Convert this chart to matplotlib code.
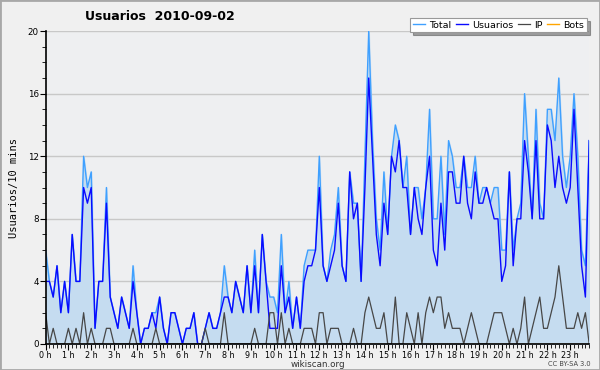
import matplotlib
matplotlib.use("Agg")
import matplotlib.pyplot as plt
from matplotlib.ticker import MultipleLocator
from matplotlib.patches import Rectangle
import numpy as np

# valores cada 10 minutos (144 puntos)
total = [6, 4, 3, 5, 2, 4, 2, 7, 4, 4, 12, 10, 11, 1, 4, 4, 10, 3, 2, 1, 3, 2, 1, 5,
         2, 0, 1, 1, 2, 2, 3, 1, 0, 2, 2, 1, 0, 1, 1, 2, 0, 0, 1, 2, 1, 1, 2, 5,
         3, 2, 4, 3, 2, 5, 2, 6, 2, 7, 4, 3, 3, 2, 7, 2, 4, 1, 3, 1, 5, 6, 6, 6,
         12, 5, 4, 6, 7, 10, 5, 4, 11, 9, 9, 4, 12, 20, 13, 8, 6, 11, 7, 12, 14, 13, 10, 12,
         7, 10, 10, 8, 10, 15, 8, 8, 12, 7, 13, 12, 10, 10, 12, 10, 10, 12, 9, 10, 10, 9, 10, 10,
         6, 6, 11, 6, 8, 9, 16, 12, 8, 15, 9, 8, 15, 15, 13, 17, 12, 10, 12, 16, 12, 6, 5, 13]
usuarios = [4, 4, 3, 5, 2, 4, 2, 7, 4, 4, 10, 9, 10, 1, 4, 4, 9, 3, 2, 1, 3, 2, 1, 4,
            2, 0, 1, 1, 2, 1, 3, 1, 0, 2, 2, 1, 0, 1, 1, 2, 0, 0, 1, 2, 1, 1, 2, 3,
            3, 2, 4, 3, 2, 5, 2, 5, 2, 7, 4, 1, 1, 1, 5, 2, 3, 1, 3, 1, 4, 5, 5, 6,
            10, 5, 4, 5, 6, 9, 5, 4, 11, 8, 9, 4, 10, 17, 12, 7, 5, 9, 7, 12, 11, 13, 10, 10,
            7, 10, 8, 7, 10, 12, 6, 5, 9, 6, 11, 11, 9, 9, 12, 9, 8, 11, 9, 9, 10, 9, 8, 8,
            4, 5, 11, 5, 8, 8, 13, 11, 8, 13, 8, 8, 14, 13, 10, 12, 10, 9, 10, 15, 10, 5, 3, 13]
ip = [2, 0, 1, 0, 0, 0, 1, 0, 1, 0, 2, 0, 1, 0, 0, 0, 1, 1, 0, 0, 0, 0, 0, 1,
      0, 0, 0, 0, 0, 1, 0, 0, 0, 0, 0, 0, 0, 0, 0, 0, 0, 0, 1, 0, 0, 0, 0, 2,
      0, 0, 0, 0, 0, 0, 0, 1, 0, 0, 0, 2, 2, 0, 2, 0, 1, 0, 0, 0, 1, 1, 1, 0,
      2, 2, 0, 1, 1, 1, 0, 0, 0, 1, 0, 0, 2, 3, 2, 1, 1, 2, 0, 0, 3, 0, 0, 2,
      1, 0, 2, 0, 2, 3, 2, 3, 3, 1, 2, 1, 1, 1, 0, 1, 2, 1, 0, 0, 0, 1, 2, 2,
      2, 1, 0, 1, 0, 1, 3, 0, 1, 2, 3, 1, 1, 2, 3, 5, 3, 1, 1, 1, 2, 1, 2, 0]
bots = [0] * 144

horas = np.arange(len(total)) / 6.0
hour_labels = ["%d h" % h for h in range(24)]

fig = plt.figure(figsize=(6, 3.7), dpi=100, facecolor="#f0f0f0")
fig.patches.append(Rectangle((0, 0), 1, 1, transform=fig.transFigure, fill=False,
                             edgecolor="#a8a8a8", linewidth=2))
ax = fig.add_axes([0.076, 0.0703, 0.906, 0.8457])
ax.set_facecolor("#eeeff1")

ax.fill_between(horas, total, color="#c5dcf0", zorder=1)
ax.plot(horas, bots, color="#ffa500", lw=1, label="Bots", zorder=1.5)
ax.plot(horas, total, color="#3fa0ff", lw=1, label="Total", zorder=3)
ax.plot(horas, usuarios, color="#0a0aff", lw=1, label="Usuarios", zorder=4)
ax.plot(horas, ip, color="#474747", lw=0.9, label="IP", zorder=5)

ax.set_xlim(0, horas[-1])
ax.set_ylim(0, 20)
ax.set_xticks(range(24))
ax.set_xticklabels(hour_labels, fontsize=5.8)
ax.xaxis.set_minor_locator(MultipleLocator(1 / 6))
ax.yaxis.set_major_locator(MultipleLocator(4))
ax.yaxis.set_minor_locator(MultipleLocator(1))
ax.tick_params(axis="y", which="major", labelsize=6.3)
ax.tick_params(axis="both", which="major", length=4, width=0.8, pad=1)
ax.tick_params(axis="both", which="minor", length=3, width=0.6)
ax.grid(axis="y", color="#c8c8c8", lw=1, zorder=0.5)
ax.set_axisbelow(True)
for s in ["top", "right"]:
    ax.spines[s].set_visible(False)
for s in ["left", "bottom"]:
    ax.spines[s].set_linewidth(1.2)
    ax.spines[s].set_zorder(6)

ax.set_ylabel("Usuarios/10 mins", family="DejaVu Sans Mono", fontsize=7.5, labelpad=6)
fig.text(0.142, 0.955, "Usuarios  2010-09-02", fontsize=9, fontweight="bold", va="center")
fig.text(0.53, 0.014, "wikiscan.org", fontsize=6.3, ha="center", va="center", color="#333333")
fig.text(0.984, 0.016, "CC BY-SA 3.0", fontsize=4.8, ha="right", va="center", color="#444444")

handles, labels = ax.get_legend_handles_labels()
order = [labels.index(n) for n in ["Total", "Usuarios", "IP", "Bots"]]
leg = fig.legend([handles[i] for i in order], [labels[i] for i in order],
                 loc="upper right", bbox_to_anchor=(0.978, 0.952), ncol=4,
                 fontsize=6.8, frameon=True, fancybox=False, shadow=True,
                 handlelength=1.3, handletextpad=0.4, columnspacing=0.5,
                 borderpad=0.3, borderaxespad=0)
leg.get_frame().set_edgecolor("#999999")
leg.get_frame().set_linewidth(0.8)

fig.savefig("out.png", dpi=100, facecolor=fig.get_facecolor())
